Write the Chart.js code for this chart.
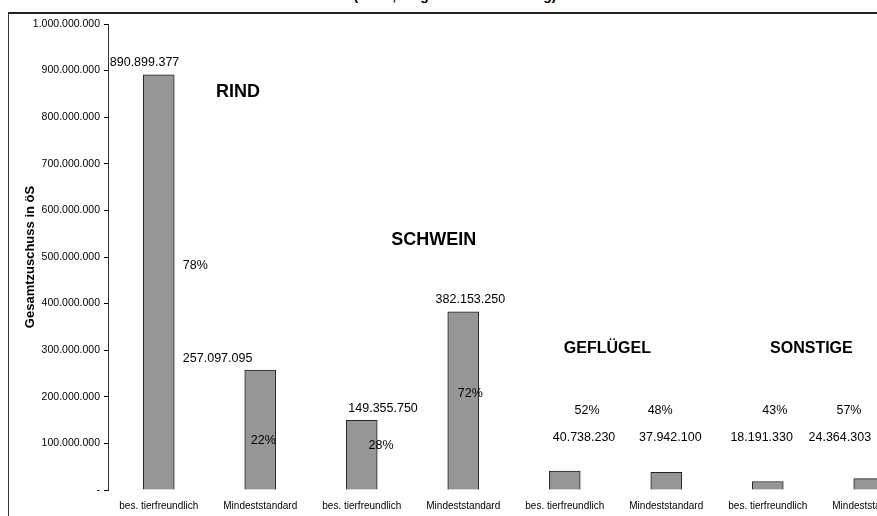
<!DOCTYPE html>
<html>
<head>
<meta charset="utf-8">
<script src="https://cdn.jsdelivr.net/npm/chart.js@4.4.1/dist/chart.umd.min.js"></script>
<style>
  html, body { margin: 0; padding: 0; background: #fff; overflow: hidden; width: 877px; height: 516px; }
  #frame { position: absolute; left: 8px; top: 12px; width: 2000px; height: 2000px;
           border-left: 1.5px solid #333; border-top: 2px solid #222; }
  #title { position: absolute; left: 0; width: 910px; top: -12px; text-align: center;
           font: bold 14px "Liberation Sans", Arial, sans-serif; color: #000; line-height: 14px; }
  #wrap { position: absolute; left: 0; top: 0; width: 930px; height: 516px; }
</style>
</head>
<body>
<div id="title">(in öS, insgesamt und anteilig)</div>
<div id="frame"></div>
<div id="wrap"><canvas id="c" width="930" height="516"></canvas></div>
<script>
// ---- data ----
const groups = ['RIND', 'SCHWEIN', 'GEFLÜGEL', 'SONSTIGE'];
const categories = [
  'bes. tierfreundlich', 'Mindeststandard',
  'bes. tierfreundlich', 'Mindeststandard',
  'bes. tierfreundlich', 'Mindeststandard',
  'bes. tierfreundlich', 'Mindeststandard'
];
const subsidies = [890899377, 257097095, 149355750, 382153250, 40738230, 37942100, 18191330, 24364303];
const shares = [78, 22, 28, 72, 52, 48, 43, 57];
const yTickMax = 1000000000;
const yTickStep = 100000000;
const yAxisTitle = 'Gesamtzuschuss in öS';

function fmt(n) {
  return String(Math.round(n)).replace(/\B(?=(\d{3})+(?!\d))/g, '.');
}

const FONT = '"Liberation Sans", Arial, sans-serif';

// placement of the free text boxes (fractional category index, y in axis units)
const valueLabelPlaces = [
  { i: -0.14, above: 12 }, { i: 0.58, above: 12 }, { i: 2.21, above: 12 }, { i: 3.07, above: 12 },
  { i: 4.19, v: 113e6 }, { i: 5.04, v: 113e6 }, { i: 5.94, v: 113e6 }, { i: 6.71, v: 113e6 }
];
const shareLabelPlaces = [
  { i: 0.36, v: 481e6 }, { i: 1.03, v: 106e6 }, { i: 2.19, v: 96e6 }, { i: 3.07, v: 207e6 },
  { i: 4.22, v: 171e6 }, { i: 4.94, v: 171e6 }, { i: 6.07, v: 171e6 }, { i: 6.80, v: 171e6 }
];
const groupLabelPlaces = [
  { i: 0.78, v: 853e6, size: 18 }, { i: 2.71, v: 537e6, size: 18 },
  { i: 4.42, v: 304e6, size: 16 }, { i: 6.43, v: 304e6, size: 16 }
];

const textPlugin = {
  id: 'texts',
  afterDatasetsDraw(chart) {
    const ctx = chart.ctx;
    const xs = chart.scales.x, ys = chart.scales.y;
    const x0 = xs.getPixelForValue(0), step = xs.getPixelForValue(1) - x0;
    const px = i => x0 + i * step;
    ctx.save();
    ctx.fillStyle = '#000';
    ctx.textAlign = 'center';
    ctx.textBaseline = 'middle';
    ctx.font = '12.5px ' + FONT;
    subsidies.forEach((val, k) => {
      const p = valueLabelPlaces[k];
      const y = p.above !== undefined ? ys.getPixelForValue(val) - p.above : ys.getPixelForValue(p.v);
      ctx.fillText(fmt(val), px(p.i), y);
    });
    shares.forEach((s, k) => {
      const p = shareLabelPlaces[k];
      ctx.fillText(s + '%', px(p.i), ys.getPixelForValue(p.v));
    });
    groups.forEach((g, k) => {
      const p = groupLabelPlaces[k];
      ctx.font = 'bold ' + p.size + 'px ' + FONT;
      ctx.fillText(g, px(p.i), ys.getPixelForValue(p.v));
    });
    ctx.restore();
  }
};

new Chart(document.getElementById('c'), {
  type: 'bar',
  data: {
    labels: categories,
    datasets: [{
      data: subsidies,
      backgroundColor: '#969696',
      borderColor: '#222',
      borderWidth: 1,
      barThickness: 31
    }]
  },
  options: {
    responsive: false,
    animation: false,
    devicePixelRatio: 1,
    layout: { padding: { left: 19, top: 24, right: 10, bottom: 0 } },
    plugins: { legend: { display: false }, tooltip: { enabled: false } },
    scales: {
      x: {
        grid: { display: false, drawTicks: false },
        border: { display: false },
        ticks: {
          color: '#000', font: { family: FONT, size: 10 },
          maxRotation: 0, autoSkip: false, padding: 10
        },
        afterFit(s) { s.height = 26; }
      },
      y: {
        min: 0, max: yTickMax,
        grid: { display: true, drawOnChartArea: false, drawTicks: true, tickLength: 4, color: '#000' },
        border: { display: true, color: '#333', width: 1 },
        ticks: {
          stepSize: yTickStep, color: '#000', padding: 4,
          font: { family: FONT, size: 10.5 },
          callback: v => v === 0 ? '-' : fmt(v)
        },
        title: {
          display: true, text: yAxisTitle, color: '#000',
          font: { family: FONT, size: 13, weight: 'bold' },
          padding: { top: 4, bottom: 0 }
        },
        afterFit(s) { s.width = 89; }
      }
    }
  },
  plugins: [textPlugin]
});
</script>
</body>
</html>
